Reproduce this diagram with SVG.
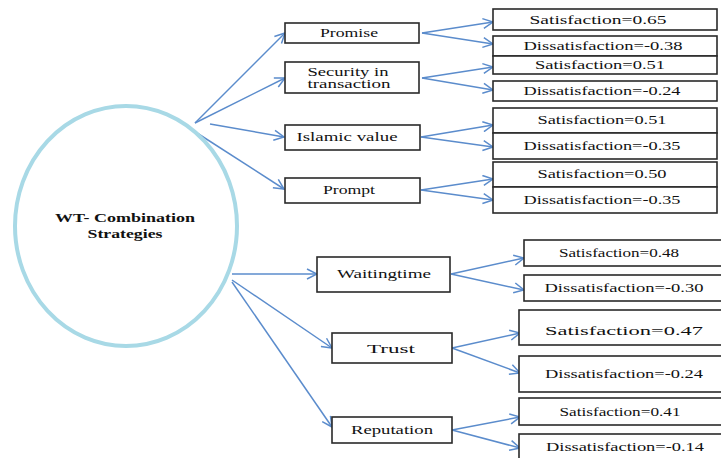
<svg xmlns="http://www.w3.org/2000/svg" width="721" height="458" viewBox="0 0 721 458">
<defs>
<style>
.bx{fill:#fff;stroke:#2a2a2a;stroke-width:1.6}
.t{font-family:'Liberation Serif','DejaVu Serif','Times New Roman',serif;font-size:12px;fill:#111;text-anchor:middle}
.b{font-weight:bold}
.c{stroke:#5b8ccc;stroke-width:1.5;fill:none;marker-end:url(#ah)}
</style>
<marker id="ah" markerUnits="userSpaceOnUse" markerWidth="12" markerHeight="12" viewBox="0 0 12 12" refX="11" refY="6" orient="auto">
<path d="M1,1 L11,6 L1,11" fill="none" stroke="#5b8ccc" stroke-width="1.5"/>
</marker>
</defs>
<rect width="721" height="458" fill="#fff"/>

<g id="connectors">
<line class="c" x1="195" y1="123" x2="285" y2="33"/>
<line class="c" x1="195" y1="123" x2="285" y2="78"/>
<line class="c" x1="210" y1="124" x2="284" y2="137"/>
<line class="c" x1="197" y1="133" x2="284" y2="189"/>
<line class="c" x1="422" y1="33" x2="493" y2="22"/>
<line class="c" x1="422" y1="33" x2="493" y2="44"/>
<line class="c" x1="422" y1="78" x2="493" y2="67"/>
<line class="c" x1="422" y1="78" x2="493" y2="90"/>
<line class="c" x1="421" y1="137" x2="493" y2="125"/>
<line class="c" x1="421" y1="137" x2="493" y2="147"/>
<line class="c" x1="421" y1="190" x2="493" y2="179"/>
<line class="c" x1="421" y1="190" x2="493" y2="200"/>
<line class="c" x1="232" y1="274" x2="317" y2="274"/>
<line class="c" x1="232" y1="280" x2="332" y2="348"/>
<line class="c" x1="232" y1="282" x2="332" y2="427"/>
<line class="c" x1="451" y1="274" x2="524" y2="258"/>
<line class="c" x1="451" y1="274" x2="524" y2="290"/>
<line class="c" x1="452" y1="348" x2="520" y2="333"/>
<line class="c" x1="452" y1="348" x2="520" y2="373"/>
<line class="c" x1="452" y1="430" x2="520" y2="417"/>
<line class="c" x1="452" y1="430" x2="520" y2="448"/>
</g>

<g id="root">
<ellipse cx="126" cy="226" rx="111" ry="120" fill="none" stroke="#a8d9e6" stroke-width="4"/>
<text class="t b" x="125" y="222" textLength="140" lengthAdjust="spacingAndGlyphs">WT- Combination</text>
<text class="t b" x="125" y="238" textLength="75" lengthAdjust="spacingAndGlyphs">Strategies</text>
</g>

<g id="promise">
<rect class="bx" x="285" y="23" width="134" height="20"/>
<text class="t" x="349" y="37" textLength="58" lengthAdjust="spacingAndGlyphs">Promise</text>
</g>
<g id="security">
<rect class="bx" x="285" y="62" width="134" height="31"/>
<text class="t" x="348" y="75.5" font-size="10" textLength="81" lengthAdjust="spacingAndGlyphs">Security in</text>
<text class="t" x="349" y="88" font-size="10" textLength="83" lengthAdjust="spacingAndGlyphs">transaction</text>
</g>
<g id="islamic">
<rect class="bx" x="285" y="125" width="135" height="25"/>
<text class="t" x="347" y="141" textLength="101" lengthAdjust="spacingAndGlyphs">Islamic value</text>
</g>
<g id="prompt">
<rect class="bx" x="285" y="178" width="135" height="25"/>
<text class="t" x="349" y="194" textLength="52" lengthAdjust="spacingAndGlyphs">Prompt</text>
</g>
<g id="waiting">
<rect class="bx" x="317" y="257" width="133" height="35"/>
<text class="t" x="384" y="278" textLength="94" lengthAdjust="spacingAndGlyphs">Waitingtime</text>
</g>
<g id="trust">
<rect class="bx" x="332" y="333" width="120" height="30"/>
<text class="t" x="391" y="353" font-size="14" textLength="48" lengthAdjust="spacingAndGlyphs">Trust</text>
</g>
<g id="reputation">
<rect class="bx" x="332" y="417" width="120" height="26"/>
<text class="t" x="392" y="434" textLength="82" lengthAdjust="spacingAndGlyphs">Reputation</text>
</g>

<g id="promise-sat">
<rect class="bx" x="493" y="9" width="224" height="21"/>
<text class="t" x="598" y="24" textLength="137" lengthAdjust="spacingAndGlyphs">Satisfaction=0.65</text>
</g>
<g id="promise-dis">
<rect class="bx" x="493" y="36" width="224" height="20"/>
<text class="t" x="603" y="50" textLength="159" lengthAdjust="spacingAndGlyphs">Dissatisfaction=-0.38</text>
</g>
<g id="security-sat">
<rect class="bx" x="493" y="56" width="224" height="18"/>
<text class="t" x="600" y="69" textLength="130" lengthAdjust="spacingAndGlyphs">Satisfaction=0.51</text>
</g>
<g id="security-dis">
<rect class="bx" x="493" y="81" width="224" height="20"/>
<text class="t" x="602" y="95" textLength="157" lengthAdjust="spacingAndGlyphs">Dissatisfaction=-0.24</text>
</g>
<g id="islamic-sat">
<rect class="bx" x="493" y="108" width="224" height="25"/>
<text class="t" x="602" y="124" textLength="129" lengthAdjust="spacingAndGlyphs">Satisfaction=0.51</text>
</g>
<g id="islamic-dis">
<rect class="bx" x="493" y="133" width="224" height="26"/>
<text class="t" x="602" y="150" textLength="157" lengthAdjust="spacingAndGlyphs">Dissatisfaction=-0.35</text>
</g>
<g id="prompt-sat">
<rect class="bx" x="493" y="162" width="224" height="25"/>
<text class="t" x="602" y="178" textLength="129" lengthAdjust="spacingAndGlyphs">Satisfaction=0.50</text>
</g>
<g id="prompt-dis">
<rect class="bx" x="493" y="187" width="224" height="26"/>
<text class="t" x="602" y="204" textLength="157" lengthAdjust="spacingAndGlyphs">Dissatisfaction=-0.35</text>
</g>

<g id="waiting-sat">
<rect class="bx" x="524" y="240" width="210" height="26"/>
<text class="t" x="619" y="257" textLength="120" lengthAdjust="spacingAndGlyphs">Satisfaction=0.48</text>
</g>
<g id="waiting-dis">
<rect class="bx" x="524" y="275" width="210" height="26"/>
<text class="t" x="624" y="292" textLength="159" lengthAdjust="spacingAndGlyphs">Dissatisfaction=-0.30</text>
</g>
<g id="trust-sat">
<rect class="bx" x="519" y="310" width="215" height="35"/>
<text class="t" x="624" y="335" font-size="19" textLength="158" lengthAdjust="spacingAndGlyphs">Satisfaction=0.47</text>
</g>
<g id="trust-dis">
<rect class="bx" x="519" y="356" width="215" height="36"/>
<text class="t" x="624" y="378" textLength="158" lengthAdjust="spacingAndGlyphs">Dissatisfaction=-0.24</text>
</g>
<g id="reputation-sat">
<rect class="bx" x="519" y="398" width="215" height="27"/>
<text class="t" x="620" y="416" textLength="121" lengthAdjust="spacingAndGlyphs">Satisfaction=0.41</text>
</g>
<g id="reputation-dis">
<rect class="bx" x="519" y="434" width="215" height="30"/>
<text class="t" x="625" y="451" textLength="158" lengthAdjust="spacingAndGlyphs">Dissatisfaction=-0.14</text>
</g>
</svg>
